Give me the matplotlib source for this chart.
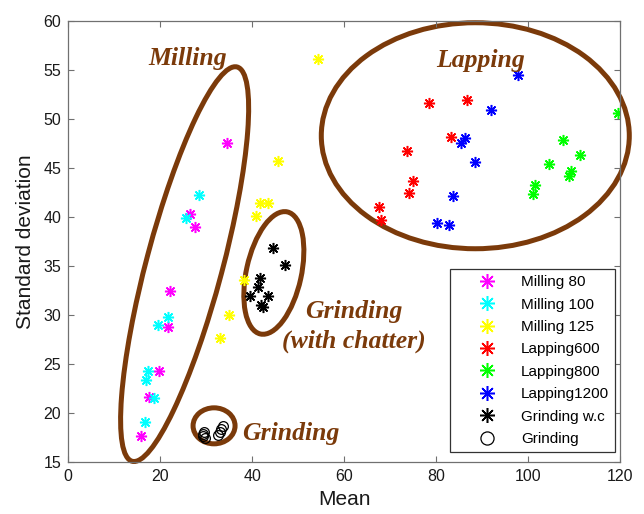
import numpy as np
import matplotlib
matplotlib.use("Agg")
import matplotlib.pyplot as plt
from matplotlib.patches import Ellipse
from matplotlib.transforms import ScaledTranslation

# data
mill80_x = [34.5, 26.5, 27.6, 22.2, 21.6, 19.8, 17.6, 15.8]
mill80_y = [47.6, 40.3, 39.0, 32.5, 28.8, 24.3, 21.6, 17.7]

mill100_x = [28.4, 25.7, 21.6, 19.6, 17.4, 16.9, 18.7, 16.7]
mill100_y = [42.3, 39.9, 29.8, 29.0, 24.3, 23.4, 21.5, 19.1]

mill125_x = [54.2, 45.7, 41.7, 43.5, 40.9, 38.3, 34.9, 33.1]
mill125_y = [56.1, 45.7, 41.4, 41.4, 40.1, 33.6, 30.0, 27.7]

lap600_x = [78.5, 86.7, 83.3, 73.6, 75.0, 74.0, 67.5, 68.1]
lap600_y = [51.6, 51.9, 48.2, 46.7, 43.7, 42.5, 41.0, 39.7]

lap800_x = [119.5, 107.6, 111.2, 104.5, 109.3, 108.8, 101.4, 101.1]
lap800_y = [50.6, 47.9, 46.3, 45.4, 44.7, 44.2, 43.3, 42.4]

lap1200_x = [97.8, 92.0, 86.3, 85.4, 88.5, 83.6, 80.1, 82.7]
lap1200_y = [54.5, 50.9, 48.1, 47.6, 45.6, 42.1, 39.4, 39.2]

grindwc_x = [44.5, 47.1, 41.7, 41.2, 39.6, 43.5, 42.0, 42.3]
grindwc_y = [36.8, 35.1, 33.8, 32.9, 31.9, 31.9, 31.0, 30.8]

grind_x = [29.2, 29.4, 29.5, 29.7, 32.6, 33.0, 33.3, 33.6]
grind_y = [17.7, 17.9, 18.1, 17.5, 17.8, 18.1, 18.4, 18.7]

BROWN = "#7B3A0A"
AX_GRAY = "#707070"

plt.rcParams["font.family"] = ["Liberation Sans", "DejaVu Sans"]

fig = plt.figure(figsize=(6.44, 5.14), dpi=100)
ax = fig.add_axes([0.106, 0.101, 0.857, 0.858])

star = (8, 2, 0)
series = [
    (mill80_x, mill80_y, "#ff00ff", "Milling 80"),
    (mill100_x, mill100_y, "#00ffff", "Milling 100"),
    (mill125_x, mill125_y, "#ffff00", "Milling 125"),
    (lap600_x, lap600_y, "#ff0000", "Lapping600"),
    (lap800_x, lap800_y, "#00ff00", "Lapping800"),
    (lap1200_x, lap1200_y, "#0000ff", "Lapping1200"),
    (grindwc_x, grindwc_y, "black", "Grinding w.c"),
]
for x, y, c, lab in series:
    ax.plot(x, y, linestyle="none", marker=star, markersize=8,
            markeredgewidth=1.1, color=c, label=lab)
ax.plot(grind_x, grind_y, linestyle="none", marker="o", markersize=7,
        markerfacecolor="none", markeredgecolor="black",
        markeredgewidth=0.9, label="Grinding")

ax.set_xlim(0, 120)
ax.set_ylim(15, 60)
ax.set_xticks(np.arange(0, 121, 20))
ax.set_yticks(np.arange(15, 61, 5))
ax.tick_params(direction="in", length=4, width=0.8, colors=AX_GRAY,
               labelcolor="#1a1a1a", labelsize=11.5, pad=5,
               top=True, right=True)
for s in ax.spines.values():
    s.set_color(AX_GRAY)
    s.set_linewidth(0.9)

ax.set_xlabel("Mean", fontsize=15, color="#1a1a1a", labelpad=4)
ax.set_ylabel("Standard deviation", fontsize=15, color="#1a1a1a", labelpad=6)

# group ellipses: centre in data units, size in inches (screen space)
groups = [
    ((25.3, 35.2), 4.08, 0.76, 75.1),
    ((44.7, 34.3), 1.25, 0.55, 77.6),
    ((31.7, 18.7), 0.42, 0.36, 0.0),
    ((88.5, 48.3), 3.08, 2.26, 0.0),
]
for (cx, cy), w, h, ang in groups:
    tr = fig.dpi_scale_trans + ScaledTranslation(cx, cy, ax.transData)
    ax.add_patch(Ellipse((0, 0), w, h, angle=ang, transform=tr,
                         fill=False, edgecolor=BROWN, linewidth=3.6,
                         clip_on=False, zorder=1))

serif = dict(family=["Liberation Serif", "DejaVu Serif"], weight="bold",
             style="italic", color=BROWN, fontsize=18.5,
             ha="center", va="center")
ax.text(25.9, 56.2, "Milling", **serif)
ax.text(89.6, 56.0, "Lapping", **serif)
ax.text(62.1, 28.8, "Grinding\n(with chatter)", linespacing=1.37, **serif)
ax.text(48.3, 17.9, "Grinding", **serif)

leg = ax.legend(loc="lower right", bbox_to_anchor=(0.991, 0.0227),
                borderaxespad=0, fontsize=11, fancybox=False,
                edgecolor="#333333", framealpha=1, labelspacing=0.55,
                handlelength=4.1, handletextpad=0.15, borderpad=0.4,
                markerscale=1.35)
leg.get_frame().set_linewidth(0.9)

fig.savefig("out.png", dpi=100)
